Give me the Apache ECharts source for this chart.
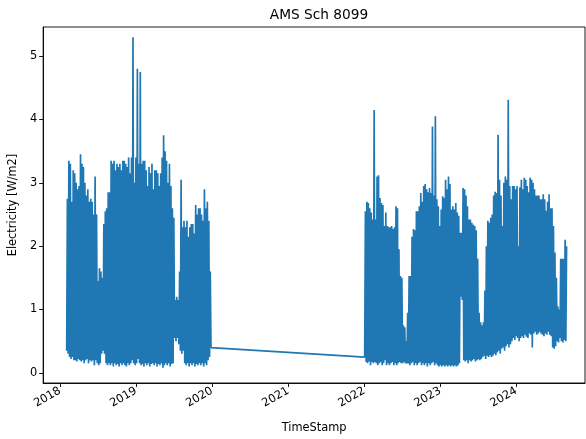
<!DOCTYPE html>
<html><head><meta charset="utf-8">
<script src="https://cdn.jsdelivr.net/npm/echarts@6/dist/echarts.min.js"></script>
<style>html,body{margin:0;padding:0;background:#fff}#c{width:586px;height:439px}</style>
</head><body><div id="c"></div>
<script>
// Weekly envelope: each week = [low, high]
const seg1Start = [2018, 1, 2];   // 2018-02-02
const seg1Hi = [2.75,3.35,3.3,2.7,3.2,3.15,3.0,2.9,2.95,3.45,
 3.3,3.25,3.0,2.8,2.9,2.7,2.75,2.7,2.5,3.1,
 2.5,1.45,1.65,1.6,1.5,2.35,2.55,2.6,2.85,2.85,
 3.35,3.3,3.35,3.2,3.3,3.25,3.3,3.2,3.35,3.35,
 3.3,3.25,3.4,3.15,3.4,5.3,3.0,3.4,4.8,3.3,
 4.75,3.3,3.35,3.35,3.2,2.95,3.25,3.15,3.3,2.9,
 3.2,3.2,3.15,2.95,3.15,3.4,3.75,3.5,3.35,3.0,
 3.3,2.95,2.6,2.45,1.15,1.2,1.15,1.6,3.05,2.3,
 2.4,2.3,2.4,2.15,2.3,2.35,2.35,2.2,2.65,2.5,
 2.6,2.6,2.5,2.4,2.9,2.6,2.7,2.4,1.6,0.4];
const seg1Lo = [0.35,0.3,0.25,0.22,0.25,0.2,0.2,0.18,0.22,0.2,
 0.18,0.2,0.15,0.2,0.22,0.15,0.2,0.18,0.2,0.12,
 0.2,0.15,0.12,0.15,0.3,0.35,0.3,0.15,0.12,0.15,
 0.12,0.15,0.1,0.15,0.12,0.14,0.1,0.15,0.12,0.15,
 0.12,0.1,0.15,0.12,0.15,0.2,0.15,0.12,0.15,0.22,
 0.15,0.12,0.14,0.1,0.15,0.12,0.15,0.1,0.14,0.15,
 0.12,0.15,0.1,0.14,0.12,0.15,0.08,0.12,0.15,0.12,
 0.15,0.1,0.14,0.15,0.55,0.5,0.55,0.45,0.35,0.3,
 0.35,0.15,0.12,0.15,0.1,0.15,0.12,0.15,0.1,0.14,
 0.12,0.15,0.12,0.15,0.1,0.15,0.12,0.2,0.25,0.4];

const seg2Start = [2022, 0, 3];   // 2022-01-03
const seg2Hi = [2.55,2.7,2.68,2.6,2.53,2.42,4.15,2.42,3.1,3.12,
 2.76,2.68,2.65,2.32,2.53,2.32,2.3,2.3,2.32,2.27,
 2.3,2.63,2.6,1.95,1.53,1.5,0.75,0.72,0.5,0.95,
 1.53,1.53,2.15,2.27,2.25,2.55,2.55,2.63,2.84,2.7,
 2.95,2.98,2.9,2.85,2.92,2.84,3.89,2.8,4.05,2.74,
 2.63,2.32,2.58,2.79,2.76,3.05,2.9,3.1,2.98,2.58,
 2.63,2.58,2.68,2.53,2.48,2.21,2.21,2.92,2.9,2.8,
 2.63,2.42,2.42,2.37,2.34,2.32,2.25,1.8,0.95,0.8,
 0.75,0.8,1.3,2.0,2.4,2.37,2.45,2.5,2.8,2.86,
 2.84,3.76,3.05,2.8,2.32,3.0,3.1,3.05,4.31,2.95,
 2.74,2.95,2.95,2.9,2.95,2.0,2.93,3.05,2.9,3.08,
 3.05,2.95,2.85,3.08,3.05,3.0,2.9,2.8,2.8,2.8,
 2.74,2.74,2.82,2.74,2.56,2.7,2.82,2.6,2.6,2.32,
 1.9,1.5,1.05,1.0,1.8,1.8,1.8,2.1,2.0];
const seg2Lo = [0.25,0.17,0.15,0.18,0.12,0.17,0.15,0.17,
 0.15,0.12,0.15,0.17,0.12,0.15,0.2,0.12,0.15,0.12,0.15,0.17,0.12,0.15,0.12,0.15,0.17,0.15,
 0.15,0.17,0.15,0.15,
 0.15,0.12,0.15,0.17,0.12,0.15,0.12,0.15,0.17,0.12,0.15,0.12,0.15,0.1,0.15,0.12,0.15,0.17,0.12,0.15,0.12,
 0.1,0.12,0.1,0.12,0.1,0.12,0.1,0.12,0.1,0.12,0.1,0.12,0.1,0.12,0.15,
 1.2,1.15,
 0.2,0.18,0.2,0.15,0.2,0.18,0.2,0.22,0.18,0.2,0.22,0.2,0.22,
 0.25,0.27,0.22,0.27,0.25,0.28,0.25,0.27,0.3,0.28,
 0.32,0.35,0.3,0.38,0.4,0.35,0.42,0.45,0.4,0.45,
 0.5,0.55,0.52,0.58,0.55,0.5,0.55,0.58,0.55,0.6,0.57,0.55,
 0.62,0.6,0.4,0.62,0.65,0.6,0.62,0.65,
 0.62,0.6,0.58,0.62,0.6,0.65,0.6,0.58,
 0.4,0.38,0.42,
 0.5,0.48,0.55,0.5,0.48,0.52,0.5];

const yearTicks = [2018,2019,2020,2021,2022,2023,2024];
const yTicks = [0,1,2,3,4,5];

const DAY = 86400000;
function build(start, lo, hi, out) {
  const t0 = new Date(start[0], start[1], start[2]).getTime();
  for (let i = 0; i < lo.length; i++) {
    out.push([t0 + i * 7 * DAY, lo[i]]);
    out.push([t0 + (i * 7 + 3.5) * DAY, hi[i]]);
  }
}
const data = [];
build(seg1Start, seg1Lo, seg1Hi, data);
build(seg2Start, seg2Lo, seg2Hi, data);

const yearTs = yearTicks.map(y => new Date(y, 0, 1).getTime());
const FONT = 'DejaVu Sans';

const chart = echarts.init(document.getElementById('c'), null, {renderer: 'canvas'});
chart.setOption({
  animation: false,
  backgroundColor: '#fff',
  title: {
    text: 'AMS Sch 8099', left: 314, top: 3, textAlign: 'center',
    textStyle: {fontFamily: FONT, fontSize: 13.7, fontWeight: 'normal', color: '#000'}
  },
  grid: {left: 43, right: 1, top: 27, bottom: 55, show: true, borderColor: '#000', borderWidth: 0.9, containLabel: false},
  xAxis: {
    type: 'value',
    min: new Date(2017, 9, 12).getTime(),
    max: new Date(2024, 10, 26).getTime(),
    name: 'TimeStamp', nameLocation: 'middle', nameGap: 40,
    nameTextStyle: {fontFamily: FONT, fontSize: 11.4, color: '#000'},
    axisLine: {show: true, onZero: false, lineStyle: {color: '#000', width: 0.9}},
    axisTick: {show: true, length: 4, lineStyle: {color: '#000', width: 0.9}, customValues: yearTs},
    axisLabel: {
      customValues: yearTs, rotate: 30, margin: 7,
      fontFamily: FONT, fontSize: 11.4, color: '#000',
      formatter: v => String(new Date(v).getFullYear())
    },
    splitLine: {show: false}
  },
  yAxis: {
    type: 'value', min: -0.16, max: 5.46,
    name: 'Electricity [W/m2]', nameLocation: 'middle', nameGap: 21, nameRotate: 90,
    nameTextStyle: {fontFamily: FONT, fontSize: 11.4, color: '#000'},
    axisLine: {show: true, onZero: false, lineStyle: {color: '#000', width: 0.9}},
    axisTick: {show: true, length: 4, lineStyle: {color: '#000', width: 0.9}, customValues: yTicks},
    axisLabel: {customValues: yTicks, margin: 6, fontFamily: FONT, fontSize: 11.4, color: '#000'},
    splitLine: {show: false}
  },
  series: [{
    type: 'line', data: data, showSymbol: false, symbol: 'none',
    lineStyle: {color: '#1f77b4', width: 1.7}, itemStyle: {color: '#1f77b4'}
  }]
});
</script>
</body></html>
